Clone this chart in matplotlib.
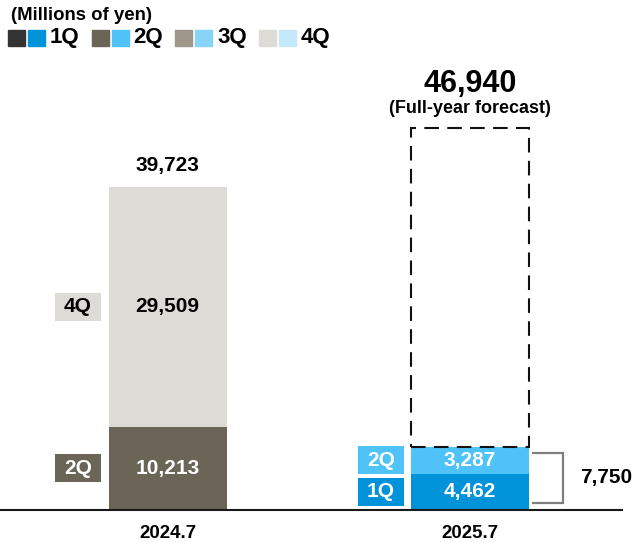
import matplotlib
matplotlib.use('Agg')
import matplotlib.pyplot as plt
from matplotlib.patches import Rectangle

plt.rcParams['font.family'] = ['Liberation Sans', 'DejaVu Sans']
plt.rcParams['font.weight'] = 'bold'

# data (millions of yen)
years = ['2024.7', '2025.7']
fy2024_quarters = ['2Q', '4Q']
fy2024_values = [10213, 29509]
fy2024_total = 39723
fy2025_quarters = ['1Q', '2Q']
fy2025_values = [4462, 3287]
fy2025_ytd = 7750
fy2025_forecast = 46940

legend_labels = ['1Q', '2Q', '3Q', '4Q']
gray_cols = ['#333333', '#6b6557', '#9e978a', '#dcdbd6']
blue_cols = ['#0093d9', '#4fc3f8', '#88d4f7', '#c5e9fb']
text_on = {'1Q': 'white', '2Q': 'white', '3Q': 'black', '4Q': 'black'}

W, H = 633, 543
fig = plt.figure(figsize=(W / 100, H / 100), dpi=100)
ax = fig.add_axes([0, 0, 1, 1])
YMIN, YMAX = -4060, 62700
ax.set_xlim(0, W)
ax.set_ylim(YMIN, YMAX)
ax.axis('off')
upp = (YMAX - YMIN) / H  # value units per pixel

xc = [167.5, 470]
bw = 118
box_x = [55, 358]
box_w = 46
box_h = 28

def seg(x, bottom, val, fc, tc):
    ax.bar(x, val, bw, bottom=bottom, color=fc, linewidth=0)
    mid = bottom + val / 2
    ax.text(x, mid, f'{val:,}', ha='center', va='center', fontsize=15, color=tc)
    return mid

def qbox(x0, mid, q, fc, tc):
    ax.add_patch(Rectangle((x0, mid - box_h / 2 * upp), box_w, box_h * upp, color=fc, lw=0))
    ax.text(x0 + box_w / 2, mid, q, ha='center', va='center', fontsize=15, color=tc)

# 2024.7 bar
bottom = 0
for q, v in zip(fy2024_quarters, fy2024_values):
    i = legend_labels.index(q)
    mid = seg(xc[0], bottom, v, gray_cols[i], text_on[q])
    qbox(box_x[0], mid, q, gray_cols[i], text_on[q])
    bottom += v
ax.annotate(f'{fy2024_total:,}', (xc[0], fy2024_total), xytext=(0, 11.5), textcoords='offset points',
            ha='center', va='baseline', fontsize=15)

# 2025.7 bar
bottom = 0
for q, v in zip(fy2025_quarters, fy2025_values):
    i = legend_labels.index(q)
    mid = seg(xc[1], bottom, v, blue_cols[i], 'white')
    qbox(box_x[1], mid, q, blue_cols[i], 'white')
    bottom += v

# forecast dashed box
ax.bar(xc[1], fy2025_forecast - fy2025_ytd, bw, bottom=fy2025_ytd, fill=False,
       edgecolor='#111111', lw=1.5, linestyle=(0, (7, 4)))
ax.annotate(f'{fy2025_forecast:,}', (xc[1], fy2025_forecast), xytext=(0, 26), textcoords='offset points',
            ha='center', va='baseline', fontsize=22)
ax.annotate('(Full-year forecast)', (xc[1], fy2025_forecast), xytext=(0, 11), textcoords='offset points',
            ha='center', va='baseline', fontsize=13)

# bracket for cumulative
b_lo, b_hi = 7 * upp, fy2025_ytd - 6 * upp
ax.plot([533, 563, 563, 533], [b_hi, b_hi, b_lo, b_lo], color='#7f7f7f', lw=1.6, solid_joinstyle='miter')
ax.text(606, (b_lo + b_hi) / 2, f'{fy2025_ytd:,}', ha='center', va='center', fontsize=15)

# baseline
ax.plot([0, 622], [0, 0], color='#1a1a1a', lw=1.5)
for x, yl in zip(xc, years):
    ax.annotate(yl, (x, 0), xytext=(0, -20), textcoords='offset points',
                ha='center', va='baseline', fontsize=13.4)

# legend
def fx(p):
    return p / W

def fy(p):
    return 1 - p / H

fig.text(fx(11), fy(20), '(Millions of yen)', ha='left', va='baseline', fontsize=13.4)
for k, lab in enumerate(legend_labels):
    x0 = 8 + k * 83.5
    fig.patches.append(Rectangle((fx(x0), fy(46)), fx(17), 16 / H, color=gray_cols[k],
                                 transform=fig.transFigure, figure=fig))
    fig.patches.append(Rectangle((fx(x0 + 20), fy(46)), fx(17), 16 / H, color=blue_cols[k],
                                 transform=fig.transFigure, figure=fig))
    fig.text(fx(x0 + 42), fy(38), lab, ha='left', va='center', fontsize=16)

fig.savefig('out.png', dpi=100)
